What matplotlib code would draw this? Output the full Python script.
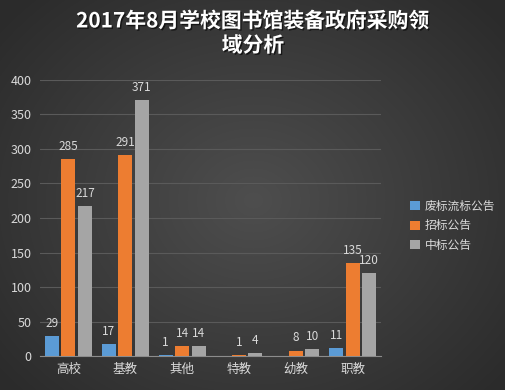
import numpy as np
import matplotlib
matplotlib.use("Agg")
import matplotlib.pyplot as plt
import matplotlib.patheffects as pe

plt.rcParams['font.family'] = ['Noto Sans CJK SC', 'DejaVu Sans']

categories = ['高校', '基教', '其他', '特教', '幼教', '职教']
series_names = ['废标流标公告', '招标公告', '中标公告']
fail_vals = [29, 17, 1, 0, 0, 11]
bid_vals = [285, 291, 14, 1, 8, 135]
win_vals = [217, 371, 14, 4, 10, 120]
colors = ['#5b9bd5', '#ed7d31', '#a5a5a5']
title = '2017年8月学校图书馆装备政府采购领\n域分析'

fig = plt.figure(figsize=(5.06, 3.9), dpi=100)

# background radial gradient
bg = fig.add_axes([0, 0, 1, 1], zorder=-10)
yy, xx = np.mgrid[0:390, 0:506]
r = np.sqrt(((xx - 253) / 330.0) ** 2 + ((yy - 200) / 280.0) ** 2)
r = np.clip(r, 0, 1)
c0 = np.array([0x4e, 0x4e, 0x4e]) / 255
c1 = np.array([0x2b, 0x2b, 0x2b]) / 255
img = c0[None, None, :] * (1 - r[..., None]) + c1[None, None, :] * r[..., None]
bg.imshow(img, aspect='auto', extent=[0, 1, 0, 1])
bg.axis('off')

ax = fig.add_axes([0.079, 0.087, 0.674, 0.708])
ax.set_facecolor('none')
x = np.arange(len(categories))
w = 0.245
offs = [-0.29, 0, 0.29]
all_vals = [fail_vals, bid_vals, win_vals]
for i, (vals, col, name) in enumerate(zip(all_vals, colors, series_names)):
    ax.bar(x + offs[i], vals, width=w, color=col, label=name, zorder=3)
    for xi, v in zip(x, vals):
        if v == 0:
            continue
        ax.text(xi + offs[i], v + 9, str(v), ha='center', va='bottom',
                color='#d9d9d9', fontsize=8.5)

ax.set_xlim(-0.5, len(categories) - 0.5)
ax.set_ylim(0, 400)
ax.set_yticks(range(0, 401, 50))
ax.grid(axis='y', color='#5a5a5a', linewidth=0.8, zorder=0)
for s in ['top', 'right', 'left']:
    ax.spines[s].set_visible(False)
ax.spines['bottom'].set_color('#8c8c8c')
ax.tick_params(axis='both', length=0, colors='#d9d9d9', labelsize=9)
ax.tick_params(axis='x', pad=5)
ax.tick_params(axis='y', pad=6)
ax.set_xticks(x)
ax.set_xticklabels(categories)

fig.legend(loc='upper left', bbox_to_anchor=(0.79, 0.515), frameon=False,
           fontsize=8.5, handlelength=0.8, handleheight=0.8, handletextpad=0.4,
           labelspacing=0.55, labelcolor='#d9d9d9')

fig.text(0.5, 0.915, title, ha='center', va='center', color='white',
         fontsize=15, fontweight='bold', linespacing=1.2,
         path_effects=[pe.withSimplePatchShadow(offset=(1, -1), shadow_rgbFace='black', alpha=0.6)])

fig.savefig('out.png', dpi=100)
